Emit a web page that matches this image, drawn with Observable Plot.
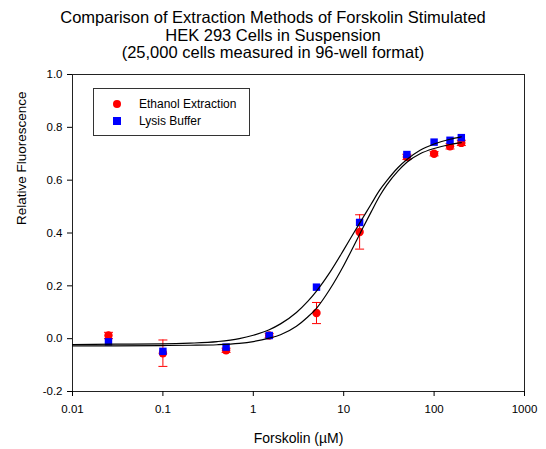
<!DOCTYPE html>
<html><head><meta charset="utf-8">
<script src="https://cdn.jsdelivr.net/npm/d3@7"></script>
<script src="https://cdn.jsdelivr.net/npm/@observablehq/plot@0.6"></script>
<style>
body{margin:0;background:#fff;font-family:"Liberation Sans",Arial,sans-serif;}
#wrap{position:relative;width:546px;height:449px;}
#title{position:absolute;left:0;top:9px;width:546px;text-align:center;font-size:16.5px;line-height:17.5px;color:#000;}
#legend{position:absolute;left:93px;top:88px;width:155px;height:46px;border:1px solid #333;background:#fff;font-size:12px;color:#000;}
#legend .row{position:absolute;left:0;height:16px;line-height:16px;}
#legend .sym{position:absolute;left:19px;top:4px;width:8px;height:8px;}
#legend .lbl{position:absolute;left:45px;white-space:nowrap;}
</style></head><body>
<div id="wrap">
<div id="chart"></div>
<div id="title">Comparison of Extraction Methods of Forskolin Stimulated<br>HEK 293 Cells in Suspension<br>(25,000 cells measured in 96-well format)</div>
<div id="legend"></div>
</div>
<script>
// Data
const concentration = [0.025, 0.1, 0.5, 1.5, 5, 15, 50, 100, 150, 200];
const ethanolMean = [0.012, -0.055, -0.044, 0.012, 0.097, 0.404, 0.688, 0.700, 0.728, 0.741];
const ethanolErr  = [0.012, 0.050, 0.008, 0.008, 0.040, 0.065, 0.010, 0.008, 0.010, 0.010];
const lysisMean   = [-0.012, -0.048, -0.032, 0.012, 0.195, 0.440, 0.697, 0.744, 0.751, 0.761];

// Fitted curves
const fitX = [0.01, 0.03, 0.1, 0.2, 0.4, 0.7, 1, 1.5, 2, 3, 4, 5, 7, 10, 13, 16, 20, 25, 30, 40, 50, 70, 100, 150, 200];
const ethanolFit = [-0.027, -0.027, -0.026, -0.025, -0.023, -0.018, -0.011, 0.002, 0.015, 0.047, 0.082, 0.115, 0.186, 0.277, 0.353, 0.414, 0.478, 0.540, 0.582, 0.635, 0.668, 0.700, 0.720, 0.735, 0.742];
const lysisFit   = [-0.022, -0.021, -0.020, -0.017, -0.011, 0.000, 0.013, 0.034, 0.056, 0.099, 0.141, 0.180, 0.250, 0.336, 0.402, 0.453, 0.508, 0.562, 0.598, 0.648, 0.678, 0.713, 0.737, 0.755, 0.764];

const xTicks = [0.01, 0.1, 1, 10, 100, 1000];
const yTicks = [-0.2, 0, 0.2, 0.4, 0.6, 0.8, 1.0];
const seriesNames = ["Ethanol Extraction", "Lysis Buffer"];
const xLabel = "Forskolin (\u00B5M)";
const yLabel = "Relative Fluorescence";

const ethanol = concentration.map((c, i) => ({x: c, y: ethanolMean[i], lo: ethanolMean[i] - ethanolErr[i], hi: ethanolMean[i] + ethanolErr[i]}));
const lysis = concentration.map((c, i) => ({x: c, y: lysisMean[i]}));
const fitE = fitX.map((c, i) => ({x: c, y: ethanolFit[i]}));
const fitL = fitX.map((c, i) => ({x: c, y: lysisFit[i]}));

const cap = {draw(ctx) { ctx.moveTo(-4.5, 0); ctx.lineTo(4.5, 0); }};

const chart = Plot.plot({
  width: 546, height: 449,
  marginLeft: 72, marginRight: 22, marginTop: 74, marginBottom: 58,
  style: {fontFamily: "Liberation Sans, Arial, sans-serif", fontSize: "11.5px", color: "#000", background: "#fff", overflow: "visible"},
  x: {type: "log", domain: [0.01, 1000]},
  y: {domain: [-0.2, 1.0]},
  marks: [
    Plot.frame({stroke: "#222"}),
    Plot.axisX({ticks: xTicks, tickFormat: d => String(d), tickSize: 5, tickPadding: 8, label: null}),
    Plot.axisY({ticks: yTicks, tickFormat: d => d.toFixed(1), tickSize: 5, tickPadding: 5, label: null}),
    Plot.ruleX(ethanol, {x: "x", y1: "lo", y2: "hi", stroke: "#ff0000", strokeWidth: 1}),
    Plot.dot(ethanol, {x: "x", y: "hi", symbol: cap, r: 4, fill: "none", stroke: "#ff0000", strokeWidth: 1}),
    Plot.dot(ethanol, {x: "x", y: "lo", symbol: cap, r: 4, fill: "none", stroke: "#ff0000", strokeWidth: 1}),
    Plot.dot(ethanol, {x: "x", y: "y", symbol: "circle", r: 4.2, fill: "#ff0000", stroke: "none"}),
    Plot.dot(lysis, {x: "x", y: "y", symbol: "square", r: 4.2, fill: "#0000ff", stroke: "none"}),
    Plot.line(fitE, {x: "x", y: "y", stroke: "#000", strokeWidth: 1.2, curve: "monotone-x"}),
    Plot.line(fitL, {x: "x", y: "y", stroke: "#000", strokeWidth: 1.2, curve: "monotone-x"}),
    Plot.text([xLabel], {text: d => d, frameAnchor: "bottom", dy: 47, lineAnchor: "middle", fontSize: 14}),
    Plot.text([yLabel], {text: d => d, frameAnchor: "left", dx: -51, dy: -8, rotate: -90, lineAnchor: "middle", fontSize: 13.5})
  ]
});
document.getElementById("chart").appendChild(chart);

// Legend
const legend = document.getElementById("legend");
const colors = ["#ff0000", "#0000ff"];
const shapes = ["50%", "0"];
seriesNames.forEach((name, i) => {
  const row = document.createElement("div");
  row.className = "row";
  row.style.top = (7 + i * 17) + "px";
  row.style.width = "100%";
  const s = document.createElement("div");
  s.className = "sym";
  s.style.background = colors[i];
  s.style.borderRadius = shapes[i];
  const l = document.createElement("div");
  l.className = "lbl";
  l.textContent = name;
  row.appendChild(s); row.appendChild(l);
  legend.appendChild(row);
});
</script>
</body></html>
